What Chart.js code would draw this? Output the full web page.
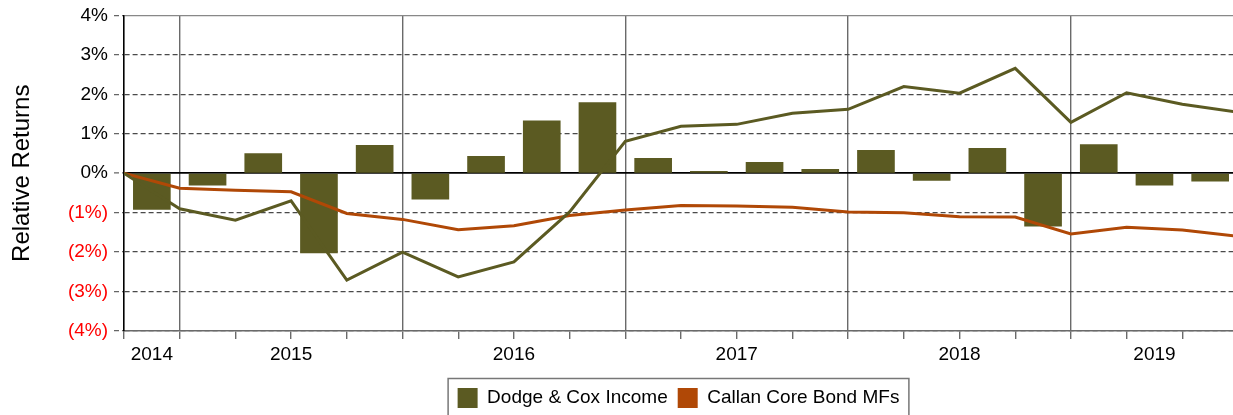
<!DOCTYPE html>
<html>
<head>
<meta charset="utf-8">
<script src="https://cdn.jsdelivr.net/npm/chart.js@4.4.1/dist/chart.umd.min.js"></script>
<style>
  html, body { margin: 0; padding: 0; background: #fff; }
  #wrap { width: 1233px; height: 415px; position: relative; }
</style>
</head>
<body>
<div id="wrap"><canvas id="c" width="1233" height="415"></canvas></div>
<script>
// ---- data ----
const seriesNames = ['Dodge & Cox Income', 'Callan Core Bond MFs'];
// quarterly relative returns (bars), quarters 2014 Q4 .. 2019 Q3
const quarterBars = [-0.92, -0.30, 0.50, -2.02, 0.71, -0.66, 0.43, 1.33, 1.79, 0.38,
                     0.05, 0.28, 0.10, 0.58, -0.18, 0.63, -1.34, 0.73, -0.30, -0.20];
// cumulative relative returns at quarter ends (start = 0)
const dodgeCumulative = [0, -0.90, -1.19, -0.70, -2.71, -2.00, -2.63, -2.25, -0.98, 0.81,
                         1.19, 1.24, 1.52, 1.62, 2.20, 2.03, 2.66, 1.29, 2.04, 1.75, 1.55];
const callanCumulative = [0, -0.38, -0.43, -0.47, -1.02, -1.17, -1.43, -1.33, -1.07, -0.93,
                          -0.82, -0.83, -0.86, -0.98, -1.00, -1.10, -1.11, -1.54, -1.37, -1.44, -1.60];
// year labels and their positions (in quarters from start)
const yearLabels = ['2014', '2015', '2016', '2017', '2018', '2019'];
const yearLabelPos = [0.5, 3, 7, 11, 15, 18.5];
const yearBoundaries = [1, 5, 9, 13, 17];
const yTicks = [-4, -3, -2, -1, 0, 1, 2, 3, 4];

const OLIVE = '#5B5A22';
const RUST = '#B04806';
const FONT = '"Liberation Sans", Arial, sans-serif';

const barData = quarterBars.map((v, i) => ({x: i + 0.5, y: v}));
const dodgeData = dodgeCumulative.map((v, i) => ({x: i, y: v}));
const callanData = callanCumulative.map((v, i) => ({x: i, y: v}));

const legendBorder = {
  id: 'legendBorder',
  afterDraw(chart) {
    const lg = chart.legend;
    if (!lg || !lg.legendHitBoxes || !lg.legendHitBoxes.length) return;
    const hb = lg.legendHitBoxes;
    const first = hb[0], last = hb[hb.length - 1];
    const ctx = chart.ctx;
    const left = first.left - 9.5;
    const right = last.left + last.width + 9.5;
    const top = first.top - 9.5;
    ctx.save();
    ctx.strokeStyle = '#777';
    ctx.lineWidth = 1.5;
    ctx.beginPath();
    ctx.moveTo(left, chart.height + 2);
    ctx.lineTo(left, top);
    ctx.lineTo(right, top);
    ctx.lineTo(right, chart.height + 2);
    ctx.stroke();
    ctx.restore();
  }
};

new Chart(document.getElementById('c'), {
  type: 'bar',
  data: {
    datasets: [
      {
        type: 'line', label: seriesNames[0] + ' cumulative', data: dodgeData,
        borderColor: OLIVE, borderWidth: 3, pointRadius: 0, tension: 0, order: 0
      },
      {
        type: 'line', label: seriesNames[1], data: callanData,
        borderColor: RUST, borderWidth: 3, pointRadius: 0, tension: 0, order: 1
      },
      {
        type: 'bar', label: seriesNames[0], data: barData,
        backgroundColor: OLIVE, borderWidth: 0,
        barThickness: 37, order: 2
      }
    ]
  },
  plugins: [legendBorder],
  options: {
    responsive: false,
    animation: false,
    devicePixelRatio: 1,
    layout: { padding: { top: 15, left: 0, right: 0, bottom: -3 } },
    plugins: {
      tooltip: { enabled: false },
      legend: {
        display: true,
        position: 'bottom',
        fullSize: false,
        labels: {
          boxWidth: 20, boxHeight: 20, padding: 10,
          color: '#000',
          font: { family: FONT, size: 19 },
          generateLabels: () => [
            { text: seriesNames[0], fillStyle: OLIVE, strokeStyle: OLIVE, lineWidth: 0, hidden: false },
            { text: seriesNames[1], fillStyle: RUST, strokeStyle: RUST, lineWidth: 0, hidden: false }
          ]
        }
      }
    },
    scales: {
      x: {
        type: 'linear',
        offset: false,
        min: 0,
        max: 19.91,
        afterBuildTicks: (scale) => {
          const vals = [];
          for (let i = 0; i <= 19; i++) vals.push(i);
          yearLabelPos.forEach(p => { if (!vals.includes(p)) vals.push(p); });
          vals.sort((a, b) => a - b);
          scale.ticks = vals.map(v => ({ value: v }));
        },
        afterFit: (scale) => { scale.height = 47; },
        ticks: {
          autoSkip: false, maxRotation: 0, minRotation: 0, padding: 4,
          color: '#000',
          font: { family: FONT, size: 19 },
          callback: (v) => {
            const i = yearLabelPos.indexOf(v);
            return i >= 0 ? yearLabels[i] : '';
          }
        },
        grid: {
          offset: false,
          color: (ctx) => (ctx.tick && yearBoundaries.includes(ctx.tick.value)) ? '#6a6a6a' : 'rgba(0,0,0,0)',
          tickColor: (ctx) => (ctx.tick && Number.isInteger(ctx.tick.value)) ? '#6a6a6a' : 'rgba(0,0,0,0)',
          lineWidth: 1.4,
          tickLength: 8,
          tickWidth: 1.4
        },
        border: { display: true, color: '#6a6a6a', width: 1.6 }
      },
      y: {
        min: -4,
        max: 4,
        afterBuildTicks: (scale) => { scale.ticks = yTicks.map(v => ({ value: v })); },
        afterFit: (scale) => { scale.width = 124; },
        title: {
          display: true,
          text: 'Relative Returns',
          color: '#000',
          font: { family: FONT, size: 24 },
          padding: { top: 8, bottom: 0 }
        },
        ticks: {
          padding: 6,
          font: { family: FONT, size: 19, lineHeight: 1 },
          color: (ctx) => (ctx.tick && ctx.tick.value < 0) ? '#FF0000' : '#000',
          callback: (v) => v < 0 ? '(' + (-v) + '%)' : v + '%'
        },
        grid: {
          color: (ctx) => {
            if (!ctx.tick) return '#555';
            if (ctx.tick.value === 0) return '#000';
            if (ctx.tick.value === 4) return '#888';
            return '#4a4a4a';
          },
          lineWidth: (ctx) => (ctx.tick && ctx.tick.value === 0) ? 1.8 : 1.3,
          tickColor: '#666',
          tickLength: 10,
          tickWidth: 1.3,
          tickBorderDash: [5, 3]
        },
        border: {
          display: true, color: '#000', width: 1.6,
          dash: (ctx) => (ctx.tick && ctx.tick.value !== 0 && ctx.tick.value !== 4) ? [5, 3] : []
        }
      }
    }
  }
});
</script>
</body>
</html>
